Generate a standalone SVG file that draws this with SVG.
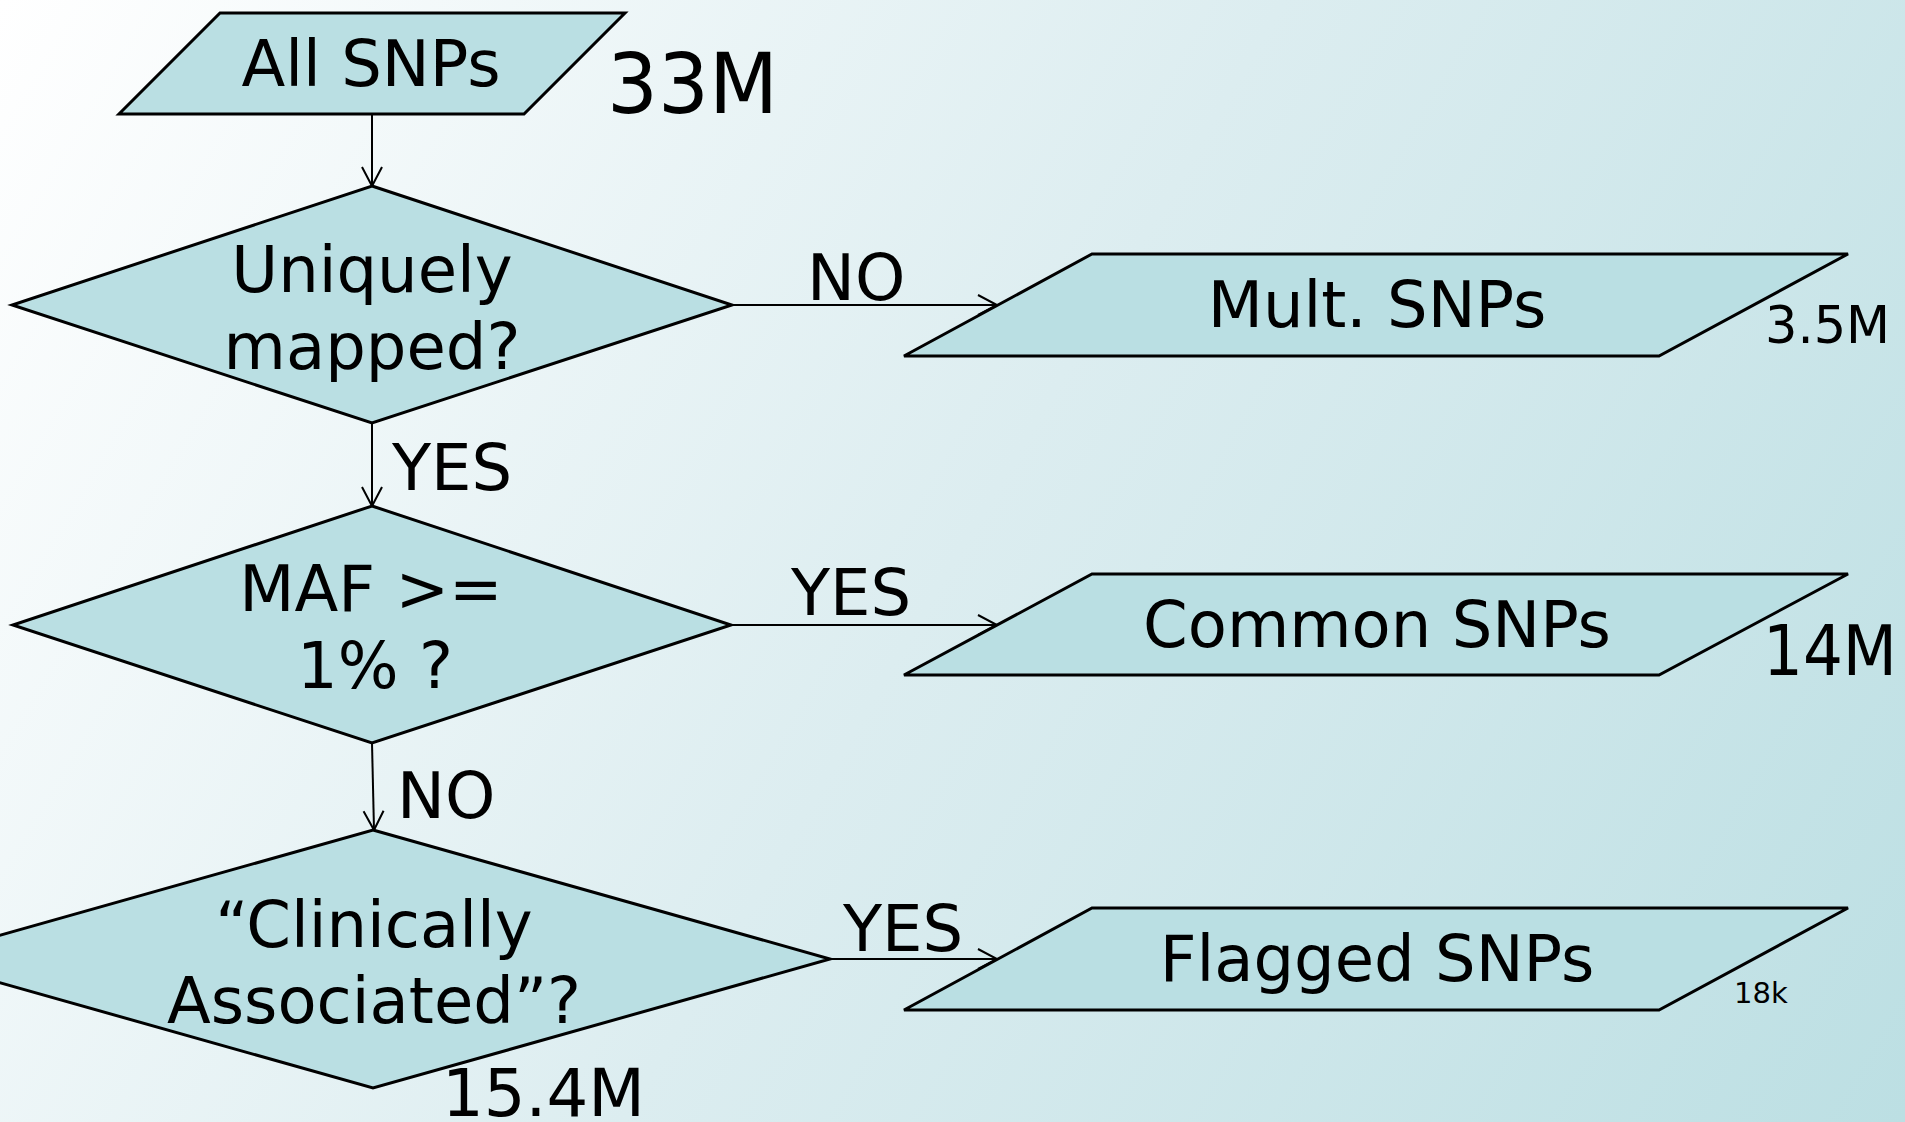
<svg xmlns="http://www.w3.org/2000/svg" width="1905" height="1122" viewBox="0 0 1905 1122">
<defs>
<linearGradient id="bg" x1="0" y1="0" x2="1905" y2="1122" gradientUnits="userSpaceOnUse">
<stop offset="0" stop-color="#ffffff"/>
<stop offset="0.5" stop-color="#dcedf0"/>
<stop offset="1" stop-color="#bcdfe3"/>
</linearGradient>
<marker id="arr" markerUnits="userSpaceOnUse" markerWidth="24" markerHeight="24" viewBox="0 0 24 24" refX="20" refY="11" orient="auto">
<path d="M1,1 L20,11 L1,21" fill="none" stroke="#000" stroke-width="2"/>
</marker>
<style>
.shape{fill:#badfe3;stroke:#000;stroke-width:3;stroke-linejoin:miter}
.conn{fill:none;stroke:#000;stroke-width:2;marker-end:url(#arr)}
text{font-family:"DejaVu Sans","Verdana",sans-serif;fill:#000}
.main{font-size:64px;text-anchor:middle}
.lbl{font-size:64px}
</style>
</defs>
<rect x="0" y="0" width="1905" height="1122" fill="url(#bg)"/>

<g id="connectors">
<line class="conn" x1="372" y1="114" x2="372" y2="186"/>
<line class="conn" x1="732" y1="305" x2="997" y2="305"/>
<line class="conn" x1="372" y1="423" x2="372" y2="506"/>
<line class="conn" x1="731" y1="625" x2="997" y2="625"/>
<line class="conn" x1="372" y1="743" x2="374" y2="830"/>
<line class="conn" x1="830" y1="959" x2="997" y2="959"/>
<text class="lbl" x="807" y="300">NO</text>
<text class="lbl" x="392" y="490">YES</text>
<text class="lbl" x="791" y="615">YES</text>
<text class="lbl" x="397" y="818">NO</text>
<text class="lbl" x="843" y="951">YES</text>
</g>

<g id="all-snps">
<polygon class="shape" points="220,13 625,13 524,114 119,114"/>
<text class="main" x="371" y="86">All SNPs</text>
<text x="607" y="113" font-size="84" textLength="171" lengthAdjust="spacingAndGlyphs">33M</text>
</g>

<g id="uniquely-mapped">
<polygon class="shape" points="372,186 732,305 372,423 12,305"/>
<text class="main" x="372" y="292">Uniquely</text>
<text class="main" x="372" y="369">mapped?</text>
</g>

<g id="mult-snps">
<polygon class="shape" points="1092,254 1848,254 1659,356 904,356"/>
<text class="main" x="1377" y="327">Mult. SNPs</text>
<text x="1765" y="343" font-size="51">3.5M</text>
</g>

<g id="maf">
<polygon class="shape" points="372,506 731,625 372,743 13,625"/>
<text class="main" x="371" y="611">MAF &gt;=</text>
<text class="main" x="375" y="688">1% ?</text>
</g>

<g id="common-snps">
<polygon class="shape" points="1092,574 1848,574 1659,675 904,675"/>
<text class="main" x="1377" y="647">Common SNPs</text>
<text x="1763" y="675" font-size="70" textLength="134" lengthAdjust="spacingAndGlyphs">14M</text>
</g>

<g id="clinically-associated">
<polygon class="shape" points="373,830 830,959 373,1088 -84,959"/>
<text class="main" x="374" y="947">“Clinically</text>
<text class="main" x="374" y="1023">Associated”?</text>
<text x="442" y="1116" font-size="66" textLength="203" lengthAdjust="spacingAndGlyphs">15.4M</text>
</g>

<g id="flagged-snps">
<polygon class="shape" points="1092,908 1848,908 1659,1010 904,1010"/>
<text class="main" x="1377" y="981">Flagged SNPs</text>
<text x="1734" y="1003" font-size="29">18k</text>
</g>
</svg>
